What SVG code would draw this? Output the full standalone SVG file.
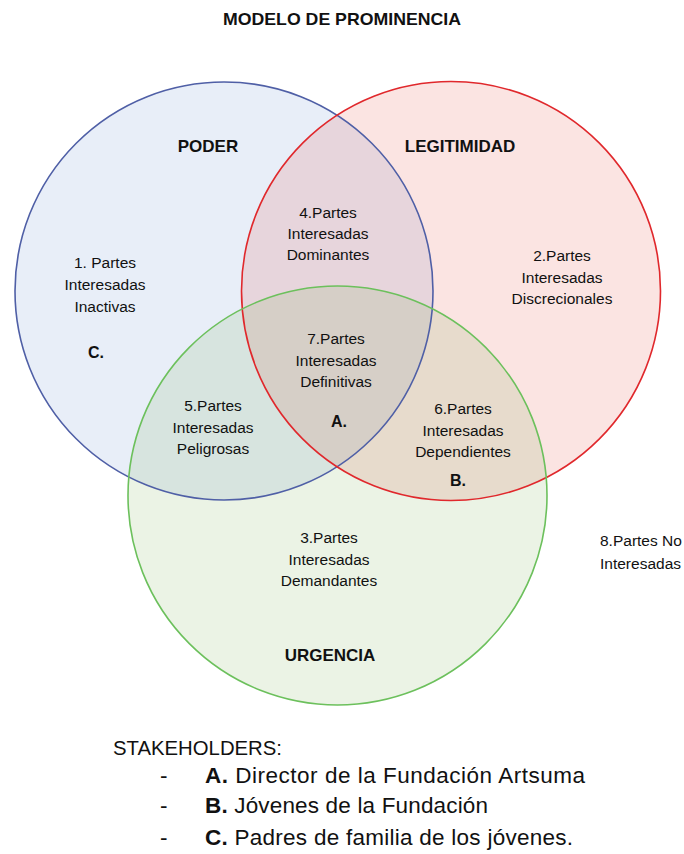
<svg xmlns="http://www.w3.org/2000/svg" width="684" height="854" viewBox="0 0 684 854">
  <style>
    text { font-family: "Liberation Sans", Arial, sans-serif; fill: #111; }
    .head { font-weight: bold; font-size: 17px; text-anchor: middle; }
    .lbl { font-size: 15.5px; text-anchor: middle; }
    .lbl.left { text-anchor: start; }
    .key { font-weight: bold; font-size: 16px; text-anchor: middle; }
    .legend { font-size: 22.5px; }
    .legend .b { font-weight: bold; }
    .ring { fill: none; stroke-width: 1.6; }
  </style>
  <rect width="684" height="854" fill="#ffffff"/>

  <text class="head" x="342" y="25" font-size="17.5" textLength="238" lengthAdjust="spacingAndGlyphs">MODELO DE PROMINENCIA</text>

  <!-- translucent set fills -->
  <g id="fills">
    <circle cx="224" cy="291" r="209" fill="#4472C4" fill-opacity="0.12"/>
    <circle cx="451" cy="291" r="209.5" fill="#E74C3C" fill-opacity="0.15"/>
    <circle cx="337.5" cy="495.5" r="209.5" fill="#70AD47" fill-opacity="0.14"/>
  </g>

  <!-- set outlines -->
  <g id="poder">
    <circle class="ring" cx="224" cy="291" r="209" stroke="#4F5FA6"/>
    <text class="head" x="208" y="152">PODER</text>
  </g>
  <g id="legitimidad">
    <circle class="ring" cx="451" cy="291" r="209.5" stroke="#E0282C"/>
    <text class="head" x="460" y="152">LEGITIMIDAD</text>
  </g>
  <g id="urgencia">
    <circle class="ring" cx="337.5" cy="495.5" r="209.5" stroke="#6CC05C"/>
    <text class="head" x="330" y="661">URGENCIA</text>
  </g>

  <g id="region1">
    <text class="lbl" x="105" y="268">1. Partes</text>
    <text class="lbl" x="105" y="290">Interesadas</text>
    <text class="lbl" x="105" y="312">Inactivas</text>
    <text class="key" x="96" y="358">C.</text>
  </g>
  <g id="region2">
    <text class="lbl" x="562" y="261">2.Partes</text>
    <text class="lbl" x="562" y="283">Interesadas</text>
    <text class="lbl" x="562" y="304">Discrecionales</text>
  </g>
  <g id="region3">
    <text class="lbl" x="329" y="543">3.Partes</text>
    <text class="lbl" x="329" y="565">Interesadas</text>
    <text class="lbl" x="329" y="586">Demandantes</text>
  </g>
  <g id="region4">
    <text class="lbl" x="328" y="218">4.Partes</text>
    <text class="lbl" x="328" y="239">Interesadas</text>
    <text class="lbl" x="328" y="260">Dominantes</text>
  </g>
  <g id="region5">
    <text class="lbl" x="213" y="411">5.Partes</text>
    <text class="lbl" x="213" y="433">Interesadas</text>
    <text class="lbl" x="213" y="454">Peligrosas</text>
  </g>
  <g id="region6">
    <text class="lbl" x="463" y="414">6.Partes</text>
    <text class="lbl" x="463" y="436">Interesadas</text>
    <text class="lbl" x="463" y="457">Dependientes</text>
    <text class="key" x="458" y="486">B.</text>
  </g>
  <g id="region7">
    <text class="lbl" x="336" y="344">7.Partes</text>
    <text class="lbl" x="336" y="366">Interesadas</text>
    <text class="lbl" x="336" y="387">Definitivas</text>
    <text class="key" x="339" y="427">A.</text>
  </g>
  <g id="region8">
    <text class="lbl left" x="600" y="546">8.Partes No</text>
    <text class="lbl left" x="600" y="569">Interesadas</text>
  </g>

  <!-- stakeholder legend -->
  <g id="legend" class="legend">
    <text x="113" y="755" font-size="20.5" textLength="169" lengthAdjust="spacingAndGlyphs">STAKEHOLDERS:</text>
    <text x="160" y="783">-</text>
    <text x="205" y="783" textLength="380"><tspan class="b">A.</tspan> Director de la Fundación Artsuma</text>
    <text x="160" y="813">-</text>
    <text x="205" y="813" textLength="283"><tspan class="b">B.</tspan> Jóvenes de la Fundación</text>
    <text x="160" y="845">-</text>
    <text x="205" y="845" textLength="368"><tspan class="b">C.</tspan> Padres de familia de los jóvenes.</text>
  </g>
</svg>
